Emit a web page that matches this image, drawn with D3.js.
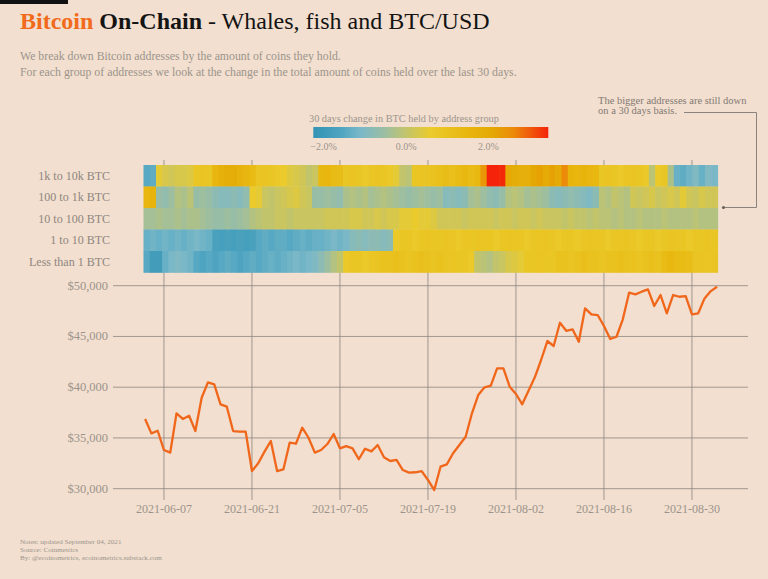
<!DOCTYPE html>
<html><head><meta charset="utf-8">
<script src="https://cdn.jsdelivr.net/npm/d3@7"></script>
<style>
html,body{margin:0;padding:0;background:#f2dfcf;}
svg{display:block;}
text{font-family:"Liberation Serif","DejaVu Serif",serif;}
</style>
</head><body><svg id="c" width="768" height="579"></svg>
<script>
// ---------- DATA ----------
const startDate = "2021-06-04";
const endDate = "2021-09-04"; // exclusive
const groups = ["1k to 10k BTC","100 to 1k BTC","10 to 100 BTC","1 to 10 BTC","Less than 1 BTC"];

const chg1kTo10k = [-1.5,-1.4, 0.5,0.3,0.2, 0.3,0.3,0.4, 0.8,0.9,0.8,
  1.5,1.7,1.9,1.9,1.7,1.5,1.3, 0.8,0.9,0.8,0.7,0.6, 0.4,0.3,0.2,0.0,0.1,
  1.4,1.5,1.3,1.2, 0.8,0.9,0.8,0.7,0.8,0.9,0.8,0.7,0.5, 0.0,-0.1,
  0.8,0.9,0.9,1.0,1.1,1.2,1.1,1.3,1.4,1.3,1.4, 2.4, 3.45,3.45,3.4,
  2.0,1.9,1.8,1.8, 2.1,2.2,2.0,2.2,2.0, 2.6, 1.6,1.5,1.6,1.5,1.4,
  0.8,0.9,0.8,0.7,0.8,0.9,0.8,0.7, -0.1, 0.7,0.8, -0.3,
  -1.3,-1.4,-1.2,-1.0,-1.3,-1.0,-1.1];
const chg100To1k = [1.5,1.6, -0.6,-0.7,-0.5, -0.2,-0.3,-0.1, -0.6,-0.5,-0.6,
  -0.8,-0.9,-0.9,-0.8,-0.9,-0.7, 0.6,0.5, 0.1,0.0,0.1,0.2, 0.3,0.4,0.2,0.1,
  -0.6,-0.6,-0.5,-0.6,-0.7, -0.3,-0.2,-0.3,-0.2,-0.4,-0.3,-0.2,-0.3,-0.4,
  -0.5,-0.6,-0.5,-0.4,-0.5,-0.6,-0.5, -0.9,-0.8,-0.9,-0.8, -0.4,-0.3,-0.5,
  -0.7,-0.8,-0.6, -0.2,-0.1,-0.2, -0.4,-0.3,-0.4,-0.5,
  -0.8,-0.9,-0.8,-0.7,-0.8,-0.9,-1.0,-0.8, -0.1,-0.2,0.0,-0.1,-0.2,
  0.2,0.1,0.2,0.3,0.1,0.2,0.3,0.2, 0.5, 0.2,0.1,0.3,0.2,0.2];
const chg10To100 = [-0.4,-0.4,-0.3,-0.4,-0.4,-0.3,-0.4,-0.3,-0.3,-0.4,
  -0.5,-0.6,-0.6,-0.5,-0.6,-0.5,-0.4,
  -0.2,-0.1,0.0,0.0,0.1,0.1,0.0,0.1,0.1,0.1,0.1,0.1,0.2,
  0.2,0.2,0.2,0.3,0.3,0.2,0.2,0.3,0.2,0.3,0.3,
  0.5,0.5,0.6,0.5,0.5,0.4,
  0.2,0.2,0.2,0.2,0.1,0.2,0.2,0.2,0.2,0.1,0.2,0.2,0.1,0.2,
  0.2,0.1,0.2,0.1,0.1,0.1,0.0,0.1,0.0,0.0,-0.1,0.0,
  -0.1,-0.1,-0.2,-0.1,-0.2,-0.2,-0.1,-0.2,-0.2,-0.2,-0.1,-0.2,-0.2,-0.2,-0.2,-0.1,-0.2,-0.2,-0.2];
const chg1To10 = [-1.3,-1.2,-1.3,-1.2,-1.3,-1.2,-1.3,-1.2,-1.1,-1.2,-1.3,
  -1.7,-1.8,-1.7,-1.8,-1.7,-1.8,-1.7,
  -1.5,-1.4,-1.5,-1.4,-1.4,-1.5,-1.4,-1.3,-1.4,-1.3,-1.3,-1.2,
  -1.1,-1.2,-1.1, -0.9,-0.8,-0.9,-0.8,-0.8,-0.9,-0.8,
  0.7,0.8,0.8,0.7,0.8,0.9,0.8,0.8,0.9,0.8,
  0.7,0.8,0.8,0.9,0.8,0.8,0.7,0.8,0.9,0.8,
  0.8,0.7,0.8,0.8,0.9,0.8,0.7,0.8,0.8,0.7,
  0.8,0.9,0.8,0.8,0.7,0.8,0.8,0.9,0.8,0.7,
  0.8,0.8,0.7,0.8,0.9,0.8,0.8,0.7,0.8,0.8,
  0.9,0.8];
const chgLess1 = [-1.5,-1.9,-1.9,-1.3, -1.1,-1.0,-1.1,-1.2,
  -1.5,-1.6,-1.5,-1.6,-1.5,-1.4,-1.5,-1.6,-1.5,-1.4,-1.5,-1.4,-1.3,-1.4,-1.3,
  -1.2,-1.1,-1.2,-1.1,-1.0, -0.8,-0.5,-0.2,0.0,
  0.7,0.8,0.8,0.7,0.8,0.9,
  1.0,1.0,1.1,1.0,0.9,1.0,1.1,1.0,0.9,1.0,0.9,0.9,0.8,0.8,0.7,
  0.0,-0.1,-0.2,0.0,0.1, 0.3,0.4,0.5,
  0.8,0.8,0.9,0.8,0.8,
  1.0,1.0,0.9,1.0,1.1,1.0,1.0,0.9,1.0,1.0,1.1,1.0,1.0,0.9,1.0,1.1,1.0,
  1.3,1.4,1.3,1.3,1.2, 0.9,0.9,0.8,0.9];

const btcUsd = [36870,35450,35710,33810,33550,37430,36870,37190,35680,38960,
  40480,40280,38310,38080,35680,35620,35620,31740,32500,33650,
  34700,31740,31900,34530,34430,36010,35020,33550,33810,34400,
  35390,33980,34200,33980,32900,33940,33680,34300,33100,32730,
  32830,31840,31580,31620,31740,30860,29870,32170,32400,33490,
  34300,35120,37430,39230,39990,40150,41860,41860,40050,39330,
  38310,39650,40970,42680,44550,44060,46350,45560,45700,44480,
  47770,47180,47110,46030,44750,44970,46690,49310,49150,49410,
  49640,48000,49080,47280,49080,48910,48980,47180,47280,48750,
  49470,49900];

const xTickLabels = ["2021-06-07","2021-06-21","2021-07-05","2021-07-19","2021-08-02","2021-08-16","2021-08-30"];
const yTickValues = [30000,35000,40000,45000,50000];
const legendTickValues = [-2,0,2];
const colorStops = [-2.25,-1.6,-1.1,-0.5,0,0.6,1.5,2.1,2.6,3.45];
const colorRange = ["#3393b4","#4ea4c0","#7ab8c8","#9ebea0","#c2c46c","#ebcb2c","#e8b60e","#e4a804","#ec8a0a","#f5230a"];

// ---------- DRAW ----------
const parse = d3.timeParse("%Y-%m-%d");
const dates = d3.timeDay.range(parse(startDate), parse(endDate));
const rows = [chg1kTo10k, chg100To1k, chg10To100, chg1To10, chgLess1];

const svg = d3.select("#c");
const grey = "#9c948c";

svg.append("rect").attr("x",0).attr("y",0).attr("width",68).attr("height",4).attr("fill","#111");

// title
const title = svg.append("text").attr("x",20).attr("y",29).attr("font-size",24);
title.append("tspan").attr("fill","#f26a1b").attr("font-weight","bold").text("Bitcoin");
title.append("tspan").attr("fill","#141414").attr("font-weight","bold").text(" On-Chain");
title.append("tspan").attr("fill","#141414").text(" - Whales, fish and BTC/USD");

svg.append("text").attr("x",20).attr("y",60).attr("font-size",11.8).attr("fill",grey)
  .text("We break down Bitcoin addresses by the amount of coins they hold.");
svg.append("text").attr("x",20).attr("y",76).attr("font-size",11.8).attr("fill",grey)
  .text("For each group of addresses we look at the change in the total amount of coins held over the last 30 days.");

// scales
const x = d3.scaleTime().domain([dates[0], dates[dates.length-1]]).range([145.1, 717.1]);
const xb = d3.scaleBand().domain(dates.map(d=>+d)).range([143.5, 717.5]);
const yr = d3.scaleBand().domain(groups).range([165, 272.5]);
const y = d3.scaleLinear().domain([30000,50000]).range([488.7, 285.7]);
const color = d3.scaleLinear().domain(colorStops).range(colorRange).interpolate(d3.interpolateRgb).clamp(true);

// vertical gridlines
const tickDates = xTickLabels.map(parse);
svg.append("g").selectAll("line").data(tickDates).join("line")
  .attr("x1",d=>x(d)).attr("x2",d=>x(d)).attr("y1",160).attr("y2",500)
  .attr("stroke","#8f8780").attr("stroke-width",1).attr("opacity",0.8);
// horizontal gridlines
svg.append("g").selectAll("line").data(yTickValues).join("line")
  .attr("x1",113).attr("x2",748).attr("y1",d=>y(d)).attr("y2",d=>y(d))
  .attr("stroke","#8f8780").attr("stroke-width",1).attr("opacity",0.8);

// heatmap
groups.forEach((g,ri)=>{
  svg.append("g").selectAll("rect").data(rows[ri]).join("rect")
    .attr("x",(v,i)=>xb(+dates[i])).attr("width",xb.bandwidth()+0.6)
    .attr("y",yr(g)).attr("height",yr.bandwidth()+0.3)
    .attr("fill",v=>color(v));
});
svg.append("g").selectAll("text").data(groups).join("text")
  .attr("x",110).attr("y",d=>yr(d)+yr.bandwidth()/2+4).attr("text-anchor","end")
  .attr("font-size",12).attr("fill","#8e8680").text(d=>d);

// y axis labels
svg.append("g").selectAll("text").data(yTickValues).join("text")
  .attr("x",108).attr("y",d=>y(d)+4).attr("text-anchor","end")
  .attr("font-size",12.5).attr("fill",grey).text(d=>"$"+d3.format(",")(d));
// x axis labels
svg.append("g").selectAll("text").data(tickDates).join("text")
  .attr("x",d=>x(d)).attr("y",513).attr("text-anchor","middle")
  .attr("font-size",12).attr("fill",grey).text((d,i)=>xTickLabels[i]);

// price line
svg.append("path").datum(btcUsd)
  .attr("d", d3.line().x((v,i)=>x(dates[i])).y(v=>y(v)))
  .attr("fill","none").attr("stroke","#f0661a").attr("stroke-width",2.3).attr("stroke-linejoin","round");

// legend
const lx = d3.scaleLinear().domain([colorStops[0], colorStops[colorStops.length-1]]).range([313.3, 548.3]);
const defs = svg.append("defs");
const grad = defs.append("linearGradient").attr("id","lg");
colorStops.forEach((s,i)=>grad.append("stop")
  .attr("offset",(lx(s)-313.3)/235).attr("stop-color",colorRange[i]));
svg.append("text").attr("x",309).attr("y",122).attr("font-size",10.3).attr("fill",grey)
  .text("30 days change in BTC held by address group");
svg.append("rect").attr("x",313.3).attr("y",127).attr("width",235).attr("height",11).attr("fill","url(#lg)");
svg.append("g").selectAll("text").data(legendTickValues).join("text")
  .attr("x",d=>lx(d)).attr("y",150).attr("text-anchor","middle").attr("font-size",10).attr("fill",grey)
  .text(d=>d3.format(".1f")(d)+"%");

// annotation
svg.append("text").attr("x",598).attr("y",104).attr("font-size",10.5).attr("fill","#837a74")
  .text("The bigger addresses are still down");
svg.append("text").attr("x",598).attr("y",114).attr("font-size",10.5).attr("fill","#837a74")
  .text("on a 30 days basis.");
svg.append("path").attr("d","M684,112.5H756.5V207.5H723.5").attr("fill","none").attr("stroke","#8a827c").attr("stroke-width",1);
svg.append("circle").attr("cx",723.5).attr("cy",207.5).attr("r",1.6).attr("fill","#6a625c");

// notes
const notes = ["Notes: updated September 04, 2021","Source: Coinmetrics","By: @ecoinometrics, ecoinometrics.substack.com"];
svg.append("g").selectAll("text").data(notes).join("text")
  .attr("x",20).attr("y",(d,i)=>544+i*7.8).attr("font-size",7.1).attr("fill","#9c948c").text(d=>d);
</script>
</body></html>
